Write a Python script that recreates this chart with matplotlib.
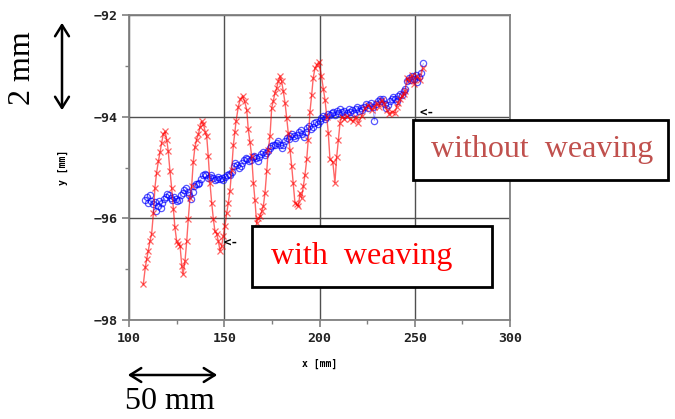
import matplotlib
matplotlib.use("Agg")
import matplotlib.pyplot as plt
from matplotlib.patches import Rectangle, FancyArrowPatch

# red: path with weaving
red_x = [107.5, 108.6, 109.3, 110.1, 111.0, 111.9, 112.8, 113.6, 114.5, 115.4,
         116.3, 117.1, 118.0, 118.9, 119.8, 120.6, 121.5, 122.4, 123.3, 124.1,
         125.0, 125.9, 126.8, 127.7, 128.4, 129.4, 130.3, 131.1, 132.0, 132.9,
         133.7, 134.6, 135.5, 136.4, 137.3, 138.2, 139.1, 140.0, 140.8, 141.6,
         142.5, 143.4, 144.3, 145.1, 146.0, 146.9, 147.8, 148.6, 149.5, 150.4,
         151.3, 152.1, 153.0, 153.9, 154.8, 155.6, 156.2, 157.4, 158.5, 159.7,
         160.7, 161.8, 162.6, 163.5, 164.4, 165.3, 166.1, 167.0, 167.9, 168.8,
         169.7, 170.5, 171.4, 172.3, 173.1, 174.0, 174.9, 175.7, 176.6, 177.5,
         178.4, 179.3, 180.1, 181.0, 181.9, 182.8, 183.6, 184.5, 185.4, 186.2,
         187.1, 188.0, 188.9, 189.8, 190.6, 191.5, 192.4, 193.3, 194.1, 195.0,
         195.9, 196.7, 197.6, 198.5, 199.7, 201.0, 202.0, 202.9, 203.8, 204.6,
         205.5, 207.0, 208.1, 209.0, 209.9, 210.8, 211.7, 213.0, 214.3, 216.0,
         217.7, 219.0, 220.4, 222.1, 223.9, 225.6, 227.4, 228.7, 230.0, 231.4,
         232.7, 234.0, 235.3, 236.6, 237.9, 239.7, 240.5, 241.4, 242.3, 243.2,
         244.1, 245.0, 245.8, 247.0, 248.5, 249.7, 251.0, 252.8, 254.2]
red_y = [-97.30, -96.95, -96.80, -96.64, -96.45, -96.30, -95.90, -95.40, -95.10, -94.88,
         -94.70, -94.52, -94.35, -94.29, -94.45, -94.68, -95.07, -95.40, -95.82, -96.18,
         -96.44, -96.50, -96.54, -96.93, -97.10, -96.84, -96.45, -96.02, -95.60, -95.37,
         -94.90, -94.60, -94.45, -94.35, -94.20, -94.09, -94.15, -94.30, -94.39, -94.78,
         -95.30, -95.69, -96.02, -96.25, -96.30, -96.45, -96.64, -96.55, -96.35, -96.15,
         -95.90, -95.70, -95.46, -95.04, -94.55, -94.30, -94.09, -93.80, -93.65, -93.59,
         -93.70, -93.86, -94.25, -94.50, -94.78, -95.30, -95.63, -96.10, -96.00, -95.95,
         -95.86, -95.76, -95.50, -95.07, -94.65, -94.39, -93.83, -93.70, -93.54, -93.44,
         -93.30, -93.20, -93.30, -93.50, -93.73, -94.03, -94.32, -94.65, -94.97, -95.30,
         -95.69, -95.72, -95.76, -95.50, -95.60, -95.37, -95.14, -94.84, -94.45, -93.90,
         -93.57, -93.24, -93.05, -92.98, -92.92, -93.20, -93.45, -93.67, -94.00, -94.32,
         -94.84, -94.90, -95.30, -94.80, -94.45, -94.12, -94.00, -94.05, -93.99, -94.05,
         -94.09, -94.00, -94.12, -93.99, -93.83, -93.77, -93.87, -93.80, -93.73, -93.80,
         -93.67, -93.75, -93.86, -93.95, -93.90, -93.92, -93.80, -93.73, -93.65, -93.60,
         -93.55, -93.50, -93.24, -93.30, -93.18, -93.35, -93.20, -93.27, -93.05]

# blue: path without weaving
blue_x = [108.4, 109.3, 110.1, 111.0, 111.8, 112.6, 113.4, 114.2, 115.0, 115.8,
          116.6, 117.4, 118.3, 119.2, 120.0, 120.9, 121.8, 122.7, 123.6, 124.5,
          125.4, 126.3, 127.2, 128.1, 129.0, 129.9, 130.8, 131.7, 132.6, 133.4,
          134.3, 135.2, 136.1, 137.0, 137.9, 138.8, 139.7, 140.6, 141.5, 142.4,
          143.3, 144.2, 145.1, 146.0, 146.9, 147.8, 148.7, 149.6, 150.5, 151.4,
          152.3, 153.2, 154.1, 155.0, 155.9, 156.8, 157.7, 158.6, 159.5, 160.4,
          161.3, 162.2, 163.1, 164.0, 164.9, 165.8, 166.7, 167.6, 168.5, 169.4,
          170.3, 171.2, 172.1, 173.0, 173.9, 174.8, 175.7, 176.6, 177.5, 178.4,
          179.3, 180.2, 181.1, 182.0, 182.9, 183.8, 184.7, 185.6, 186.5, 187.4,
          188.3, 189.2, 190.1, 191.0, 191.9, 192.8, 193.7, 194.6, 195.5, 196.4,
          197.3, 198.2, 199.1, 200.0, 200.9, 201.8, 202.7, 203.6, 204.5, 205.4,
          206.3, 207.2, 208.1, 209.0, 209.9, 210.8, 211.7, 212.6, 213.5, 214.4,
          215.3, 216.2, 217.1, 218.0, 218.9, 219.8, 220.7, 221.6, 222.5, 223.4,
          224.3, 225.2, 226.1, 227.0, 227.9, 228.8, 229.7, 230.6, 231.5, 232.4,
          233.3, 234.2, 235.1, 236.0, 236.9, 237.8, 238.7, 239.6, 240.5, 241.4,
          242.3, 243.2, 244.1, 245.0, 245.9, 246.8, 247.7, 248.6, 249.5, 250.4,
          251.3, 252.2, 253.1, 254.5]
blue_y = [-95.63, -95.58, -95.70, -95.55, -95.65, -95.72, -95.68, -95.85, -95.75, -95.65,
          -95.80, -95.70, -95.62, -95.58, -95.52, -95.55, -95.60, -95.64, -95.58, -95.62,
          -95.66, -95.63, -95.55, -95.50, -95.44, -95.40, -95.48, -95.55, -95.62, -95.48,
          -95.36, -95.33, -95.32, -95.30, -95.22, -95.15, -95.12, -95.14, -95.20, -95.18,
          -95.15, -95.20, -95.24, -95.22, -95.18, -95.22, -95.20, -95.24, -95.18, -95.15,
          -95.12, -95.14, -95.08, -94.98, -94.92, -94.95, -95.00, -94.98, -94.92, -94.86,
          -94.82, -94.84, -94.88, -94.86, -94.80, -94.78, -94.82, -94.88, -94.80, -94.74,
          -94.70, -94.76, -94.72, -94.68, -94.62, -94.58, -94.55, -94.56, -94.52, -94.48,
          -94.55, -94.62, -94.56, -94.48, -94.42, -94.44, -94.38, -94.35, -94.38, -94.42,
          -94.36, -94.30, -94.26, -94.35, -94.40, -94.30, -94.22, -94.18, -94.24, -94.20,
          -94.12, -94.10, -94.15, -94.08, -94.02, -93.98, -94.05, -94.00, -93.94, -93.96,
          -93.92, -93.90, -93.96, -93.88, -93.92, -93.85, -93.90, -93.88, -93.96, -93.92,
          -93.85, -93.90, -93.86, -93.92, -93.84, -93.80, -93.88, -93.82, -93.86, -93.80,
          -93.76, -93.82, -93.78, -93.74, -93.80, -94.08, -93.75, -93.70, -93.66, -93.70,
          -93.65, -93.75, -93.82, -93.78, -93.70, -93.66, -93.62, -93.66, -93.70, -93.60,
          -93.55, -93.58, -93.50, -93.45, -93.30, -93.24, -93.28, -93.20, -93.25, -93.18,
          -93.32, -93.22, -93.15, -92.95]

x_ticks = [100, 150, 200, 250, 300]
y_ticks = [-98, -96, -94, -92]

W, H = 675, 419


def fx(px):
    return px / W


def fy(py):
    return 1 - py / H


fig = plt.figure(figsize=(6.75, 4.19), dpi=100)
ax = fig.add_axes([fx(129), fy(320), (510 - 129) / W, (320 - 15) / H])

ax.plot(blue_x, blue_y, '-', color='blue', lw=0.5, alpha=0.4)
ax.plot(blue_x, blue_y, 'o', mfc='none', mec='blue', ms=4.5, mew=0.9, alpha=0.65)
ax.plot(red_x, red_y, '-', color='red', lw=1.0, alpha=0.6,
        marker='x', ms=5, mew=0.9)

ax.set_xlim(100, 300)
ax.set_ylim(-98, -92)
ax.set_xticks(x_ticks)
ax.set_yticks(y_ticks)
ax.set_xticks([125, 175, 225, 275], minor=True)
ax.set_yticks([-97, -95, -93], minor=True)
ax.grid(True, which='major', color='#505050', lw=1.0)
for s in ax.spines.values():
    s.set_color('#808080')
    s.set_linewidth(1.3)
ax.tick_params(which='major', direction='out', length=5, color='#808080',
               width=1.2, labelsize=9.5)
ax.tick_params(which='minor', direction='out', length=3, color='#808080', width=1.0)
for lab in ax.get_xticklabels() + ax.get_yticklabels():
    lab.set_family('DejaVu Sans Mono')
    lab.set_weight('bold')
    lab.set_color('#222222')

ax.set_xlabel('x [mm]', family='DejaVu Sans Mono', weight='bold', fontsize=7)
ax.set_ylabel('y [mm]', family='DejaVu Sans Mono', weight='bold', fontsize=7)
ax.xaxis.set_label_coords(0.5, -0.128)
ax.yaxis.set_label_coords(-0.16, 0.5)

# small "<-" pointers
fig.text(fx(419), fy(112), '<-', family='DejaVu Sans Mono', weight='bold',
         fontsize=9, va='center')
fig.text(fx(224), fy(242), '<-', family='DejaVu Sans Mono', weight='bold',
         fontsize=9, va='center')

# scale arrows
fig.patches.append(FancyArrowPatch(
    (fx(62), fy(20)), (fx(62), fy(113)), transform=fig.transFigure,
    arrowstyle='<->,head_length=8,head_width=5', lw=1.8, color='black'))
fig.patches.append(FancyArrowPatch(
    (fx(125), fy(375)), (fx(220), fy(375)), transform=fig.transFigure,
    arrowstyle='<->,head_length=8,head_width=5', lw=1.8, color='black'))
fig.text(fx(23), fy(68), '2 mm', family='Liberation Serif', fontsize=23,
         rotation=90, ha='center', va='center')
fig.text(fx(170), fy(401), '50 mm', family='Liberation Serif', fontsize=23,
         ha='center', va='center')

# label boxes
fig.patches.append(Rectangle((fx(413), fy(180)), (668 - 413) / W, (180 - 120) / H,
                             transform=fig.transFigure, fc='white', ec='black',
                             lw=2, zorder=5))
fig.text(fx(542), fy(150), 'without  weaving', family='Liberation Serif',
         fontsize=23, color='#c0504d', ha='center', va='center', zorder=6)
fig.patches.append(Rectangle((fx(252), fy(287)), (492 - 252) / W, (287 - 226) / H,
                             transform=fig.transFigure, fc='white', ec='black',
                             lw=2, zorder=5))
fig.text(fx(362), fy(256), 'with  weaving', family='Liberation Serif',
         fontsize=23, color='red', ha='center', va='center', zorder=6)

fig.savefig('out.png', dpi=100)
